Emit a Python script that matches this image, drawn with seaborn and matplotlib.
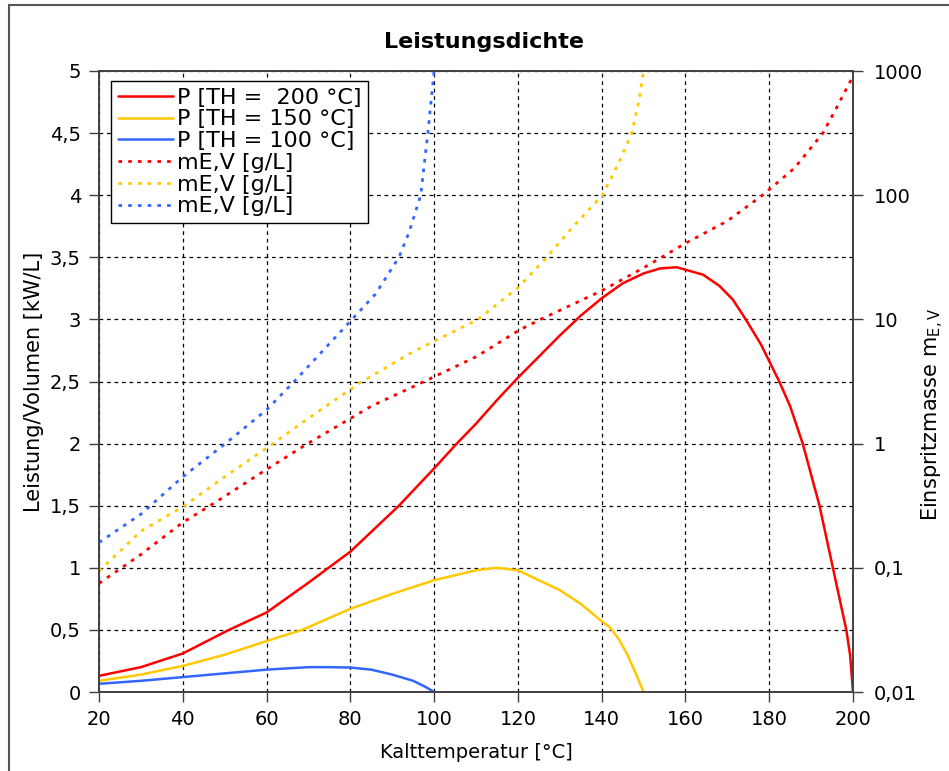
import numpy as np
import pandas as pd
import matplotlib
matplotlib.use("Agg")
import matplotlib.pyplot as plt
import matplotlib.ticker as ticker
import matplotlib.patches as mpatches
import seaborn as sns

# Leistung/Volumen [kW/L] over cold temperature, for three hot temperatures
x_p200 = [20, 30, 40, 51, 60, 70, 74.8, 80, 91.6, 100, 105.4, 110, 115, 120,
          125, 130, 135, 140, 145, 150, 153.9, 157.9, 160, 164.2, 168.1,
          171.3, 174.4, 178, 182.4, 185, 188, 190, 192, 195.2, 198.4, 199.3,
          200]
p200 = [0.13, 0.2, 0.31, 0.5, 0.64, 0.88, 1.0, 1.13, 1.5, 1.8, 2.0, 2.16, 2.35,
        2.53, 2.70, 2.87, 3.03, 3.17, 3.29, 3.37, 3.41, 3.42, 3.40, 3.36, 3.27,
        3.16, 3.0, 2.8, 2.5, 2.3, 2.0, 1.75, 1.5, 1.0, 0.5, 0.3, 0.0]

x_p150 = [20, 30, 40, 50, 60, 68.5, 80, 90, 100, 110, 115, 120, 130, 135, 140,
          142, 144, 146, 148, 150]
p150 = [0.09, 0.14, 0.21, 0.30, 0.41, 0.5, 0.67, 0.79, 0.90, 0.98, 1.0, 0.98,
        0.82, 0.71, 0.57, 0.52, 0.43, 0.31, 0.16, 0.0]

x_p100 = [20, 30, 40, 50, 60, 70, 75, 80, 85, 90, 95, 98, 100]
p100 = [0.066, 0.09, 0.12, 0.15, 0.18, 0.20, 0.20, 0.197, 0.18, 0.14, 0.09,
        0.04, 0.0]

# Einspritzmasse mE,V [g/L] (log axis)
x_m200 = [20, 30, 40, 46.5, 50, 60, 69.8, 85, 97.6, 110, 120.6, 125.4, 140,
          150, 160, 170, 178.4, 186, 192.8, 196, 200]
m200 = [0.075, 0.128, 0.232, 0.316, 0.376, 0.62, 1.0, 2.0, 3.16, 5.0, 8.3, 10,
        17, 26, 41, 62, 100, 165, 316, 500, 910]

x_m150 = [20, 30, 40, 50, 60, 70, 82.8, 95, 110.5, 120, 126.9, 133, 140.2,
          144, 147.2, 149, 150]
m150 = [0.094, 0.197, 0.31, 0.54, 0.92, 1.6, 3.16, 5.5, 10, 18, 31.6, 55, 100,
        180, 316, 600, 1000]

x_m100 = [20, 30, 40, 50, 60, 66.6, 80.4, 86, 91.6, 94, 96.8, 98.5, 100]
m100 = [0.16, 0.27, 0.54, 0.99, 1.87, 3.16, 10, 16, 31.6, 50, 100, 316, 1000]

labels = ["P [TH =  200 °C]", "P [TH = 150 °C]", "P [TH = 100 °C]",
          "mE,V [g/L]", "mE,V [g/L]", "mE,V [g/L]"]

RED = "#FF0000"
YEL = "#FFC800"
BLUE = "#3366FF"

sns.set_theme(style="white")
plt.rcParams["font.family"] = ["DejaVu Sans"]
plt.rcParams.update({
    "text.color": "black",
    "axes.labelcolor": "black",
    "xtick.color": "black",
    "ytick.color": "black",
})

fig = plt.figure(figsize=(9.49, 7.71), dpi=100)
ax = fig.add_axes([99 / 949, 1 - 692 / 771, 754 / 949, 621 / 771])
ax2 = ax.twinx()

# power curves (left axis)
solid = [(x_p200, p200, RED), (x_p150, p150, YEL), (x_p100, p100, BLUE)]
for (xs, ys, c), lab in zip(solid, labels[:3]):
    sns.lineplot(x=xs, y=ys, ax=ax, color=c, linewidth=1.8, label=lab,
                 legend=False)

# injection mass curves (right log axis)
dotted = [(x_m200, m200, RED), (x_m150, m150, YEL), (x_m100, m100, BLUE)]
for (xs, ys, c), lab in zip(dotted, labels[3:]):
    sns.lineplot(x=xs, y=ys, ax=ax2, color=c, linewidth=2.0,
                 linestyle=(0, (1.3, 2.2)), label=lab, legend=False)

# axes ranges
ax.set_xlim(20, 200)
ax.set_ylim(0, 5)
ax2.set_yscale("log")
ax2.set_ylim(0.01, 1000)

comma = ticker.FuncFormatter(lambda v, p: f"{v:g}".replace(".", ","))
ax.xaxis.set_major_locator(ticker.MultipleLocator(20))
ax.yaxis.set_major_locator(ticker.MultipleLocator(0.5))
ax.yaxis.set_major_formatter(comma)
ax2.yaxis.set_major_locator(ticker.FixedLocator([0.01, 0.1, 1, 10, 100, 1000]))
ax2.yaxis.set_minor_locator(ticker.NullLocator())
ax2.yaxis.set_major_formatter(comma)

ax.grid(True, color="black", linestyle=(0, (3, 3)), linewidth=0.9)
ax2.grid(False)

for a in (ax, ax2):
    for s in a.spines.values():
        s.set_color("#404040")
        s.set_linewidth(1.2)
    a.tick_params(direction="out", length=7, width=1, color="#404040",
                  labelsize=14, labelcolor="black")
ax.tick_params(axis="y", left=True, pad=6)
ax.tick_params(axis="x", bottom=True, pad=6)
ax2.tick_params(axis="y", right=True, pad=8)

ax.set_xlabel("Kalttemperatur [°C]", fontsize=14, labelpad=10)
ax.set_ylabel("Leistung/Volumen [kW/L]", fontsize=15, labelpad=4)
ax2.set_ylabel("")

fig.text(484 / 949, 1 - 42 / 771, "Leistungsdichte", fontsize=16,
         fontweight="bold", ha="center", va="center")
fig.text(933 / 949, 1 - 414 / 771, r"Einspritzmasse m$_\mathregular{E,V}$",
         fontsize=15, rotation=90, ha="center", va="center")

# legend with all six series
h1, l1 = ax.get_legend_handles_labels()
h2, l2 = ax2.get_legend_handles_labels()
leg = ax2.legend(h1 + h2, l1 + l2, loc="upper left",
                 bbox_to_anchor=(0.016, 0.984), borderaxespad=0,
                 fontsize=16, frameon=True, fancybox=False, framealpha=1,
                 edgecolor="black", handlelength=2.5, handletextpad=0.18,
                 labelspacing=0.08, borderpad=0.3)
leg.get_frame().set_linewidth(1.0)

# outer frame of the picture
fig.add_artist(mpatches.Rectangle((9 / 949, -0.05), 1.2, 1.05 - 5 / 771,
                                  transform=fig.transFigure, fill=False,
                                  edgecolor="#555555", linewidth=1.5))

fig.savefig("out.png", dpi=100, facecolor="white")
